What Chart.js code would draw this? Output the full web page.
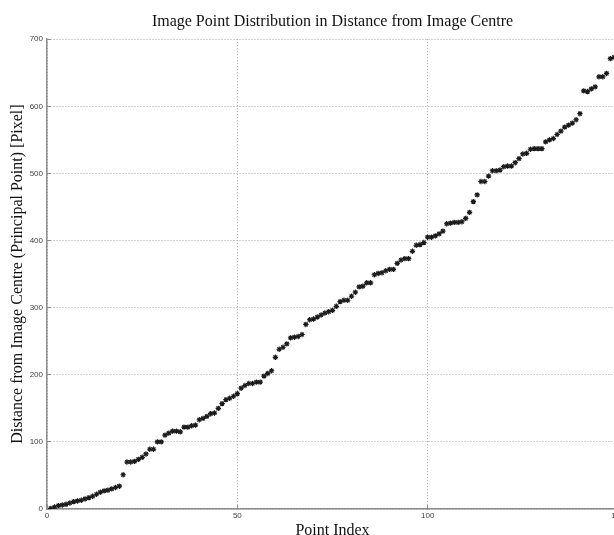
<!DOCTYPE html>
<html>
<head>
<meta charset="utf-8">
<script src="https://cdn.jsdelivr.net/npm/chart.js@4/dist/chart.umd.min.js"></script>
<style>
  html, body { margin: 0; padding: 0; background: #fff; overflow: hidden; }
  #wrap { width: 614px; height: 535px; overflow: hidden; position: relative; }
</style>
</head>
<body>
<div id="wrap"><canvas id="dist" width="640" height="545"></canvas></div>
<script>
/* distance of each image point from the principal point, in point-index order */
const distance = [
  1, 3, 5, 6, 7, 9, 11, 12, 13, 15, 17, 19, 22, 25, 27, 28, 30, 32, 34,
  51,
  70, 70, 71, 74, 77, 82, 89, 89,
  100, 100,
  110, 113, 116, 116, 115, 122, 122, 124, 125,
  133, 135, 138, 142, 143, 150, 157, 163, 165, 168, 172,
  180, 184, 187, 187, 189, 189, 198, 202, 206,
  226, 238, 241, 246, 255, 256, 257, 260,
  275, 282, 283, 286, 289, 292, 294, 296, 302, 309, 311, 311,
  317, 323, 331, 332, 337, 337, 349, 351, 352, 355, 357, 357,
  366, 371, 373, 373, 384, 393, 394, 397,
  405, 405, 407, 410, 414, 425, 426, 427, 427, 428, 433,
  442, 458, 468, 488, 488, 496,
  504, 504, 505, 510, 511, 511, 516, 522, 529, 530, 536, 537, 537, 537,
  547, 550, 552, 558, 563, 569, 572, 575, 580, 589,
  623, 622, 626, 629, 644, 644, 649, 671, 673
];
const xTicks = [0, 50, 100, 150];
const yTicks = [0, 100, 200, 300, 400, 500, 600, 700];

const serif = "'Liberation Serif', 'Times New Roman', serif";
const sans = "'Liberation Sans', Arial, sans-serif";
const grid = { color: "#a4a4a4", lineWidth: 1, tickLength: -4, tickColor: "#8c8c8c", tickWidth: 1, tickBorderDash: [] };
const border = { display: true, color: "#8c8c8c", width: 1.5, dash: [1, 2] };
const tick = { font: { family: sans, size: 8 }, color: "#444", padding: 8 };
const setTicks = list => s => { s.ticks = list.map(v => ({ value: v })); };

new Chart(document.getElementById("dist"), {
  type: "scatter",
  data: { datasets: [{
    data: distance.map((d, i) => ({ x: i + 1, y: d })),
    pointStyle: "star", radius: 2.7, borderWidth: 1.2,
    borderColor: "#1a1a1a", backgroundColor: "#1a1a1a",
  }] },
  options: {
    responsive: false, animation: false, devicePixelRatio: 1,
    layout: { padding: { left: 0, top: 0, right: 22, bottom: 0 } },
    plugins: {
      legend: { display: false }, tooltip: { enabled: false },
      title: {
        display: true, fullSize: false,
        text: "Image Point Distribution in Distance from Image Centre",
        font: { family: serif, size: 16, weight: "normal" }, color: "#111",
        padding: { top: 12, bottom: 8 },
      },
    },
    scales: {
      x: {
        type: "linear", min: 0, max: 150, grid, border,
        ticks: { ...tick, padding: 6, maxRotation: 0 },
        afterBuildTicks: setTicks(xTicks),
        afterFit: s => { s.height = 36; },
        title: { display: true, text: "Point Index", font: { family: serif, size: 16 }, color: "#111", padding: { top: 0, bottom: 5 } },
      },
      y: {
        min: 0, max: 700, grid, border, ticks: tick,
        afterBuildTicks: setTicks(yTicks),
        afterFit: s => { s.width = 47; },
        title: { display: true, text: "Distance from Image Centre (Principal Point) [Pixel]", font: { family: serif, size: 16 }, color: "#111", padding: { top: 8, bottom: 0 } },
      },
    },
  },
});
</script>
</body>
</html>
